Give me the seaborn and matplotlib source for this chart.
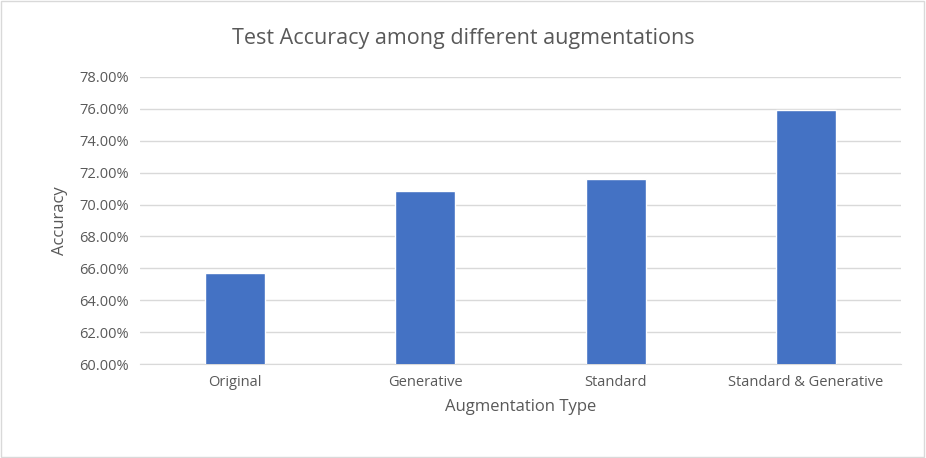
import matplotlib
matplotlib.use("Agg")
import matplotlib.pyplot as plt
import seaborn as sns
import pandas as pd
from matplotlib.ticker import FuncFormatter, MultipleLocator

categories = ["Original", "Generative", "Standard", "Standard & Generative"]
accuracy = [65.72, 70.82, 71.62, 75.94]

sns.set_style("white")
plt.rcParams['font.family'] = ['Open Sans', 'DejaVu Sans']
df = pd.DataFrame({"Augmentation Type": categories, "Accuracy": accuracy})

fig = plt.figure(figsize=(9.26, 4.58), dpi=100)
ax = fig.add_axes([0.151, 0.205, 0.822, 0.627])
sns.barplot(data=df, x="Augmentation Type", y="Accuracy", color="#4472C4",
            saturation=1, width=0.315, ax=ax, zorder=3)
ax.set_ylim(60, 78)
ax.yaxis.set_major_locator(MultipleLocator(2))
ax.yaxis.set_major_formatter(FuncFormatter(lambda v, p: f"{v:.2f}%"))
ax.grid(axis="y", color="#D9D9D9", linewidth=1, zorder=0)
for s in ["top", "right", "left"]:
    ax.spines[s].set_visible(False)
ax.spines["bottom"].set_color("#D9D9D9")
ax.tick_params(axis="both", length=0, labelsize=10.5, colors="#595959", pad=8)
ax.set_xlabel("Augmentation Type", fontsize=12, color="#595959", labelpad=6)
ax.set_ylabel("Accuracy", fontsize=12, color="#595959", labelpad=8)
fig.text(0.5, 0.915, "Test Accuracy among different augmentations", ha="center",
         va="center", fontsize=15.5, color="#595959")
fig.patches.append(plt.Rectangle((0.001, 0.002), 0.997, 0.995, transform=fig.transFigure,
                                 fill=False, edgecolor="#D9D9D9", linewidth=1))
fig.savefig("out.png", dpi=100)
